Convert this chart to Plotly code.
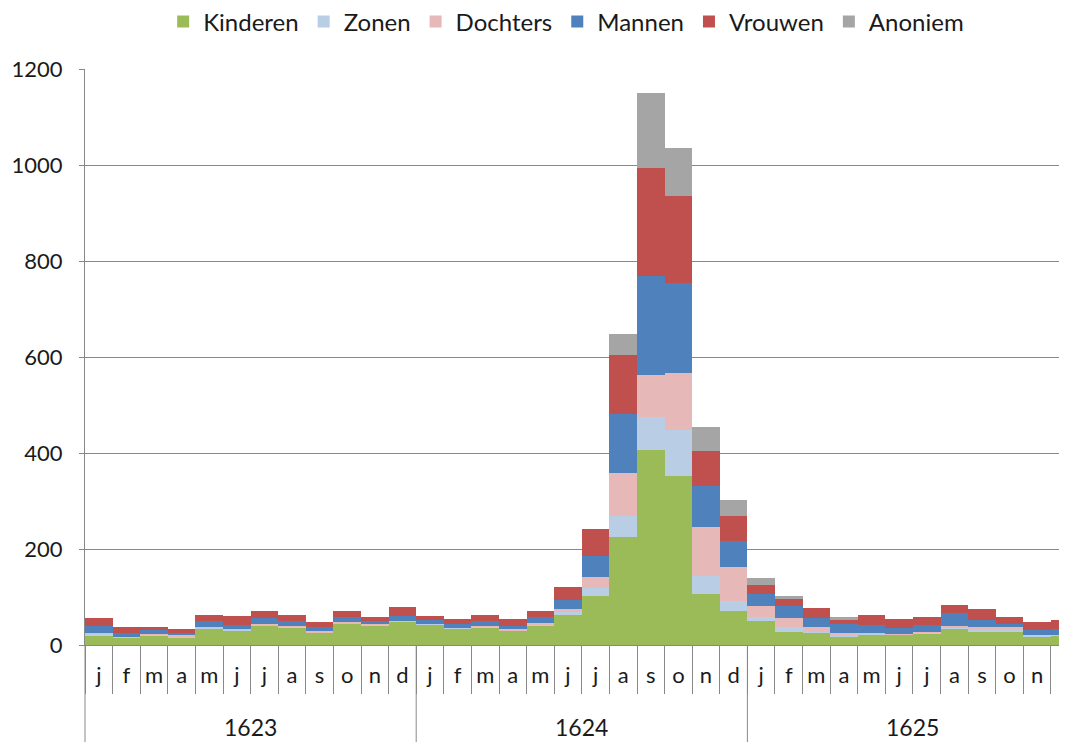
import plotly.graph_objects as go

years = ["1623", "1624", "1625"]
months = ["j", "f", "m", "a", "m", "j", "j", "a", "s", "o", "n", "d"]

kinderen = [20, 15, 20, 16, 35, 31, 40, 37, 26, 44, 41, 48,
            42, 34, 37, 30, 41, 62, 102, 224, 406, 352, 106, 71,
            49, 28, 26, 17, 21, 21, 23, 35, 28, 28, 18, 20]
zonen = [3, 1, 1, 2, 1, 1, 1, 1, 1, 1, 1, 1,
         1, 1, 1, 1, 2, 8, 16, 45, 68, 96, 38, 21,
         10, 10, 2, 2, 2, 1, 2, 1, 4, 4, 2, 1]
dochters = [3, 0, 1, 3, 2, 2, 2, 2, 2, 2, 3, 2,
            0, 0, 1, 2, 3, 4, 23, 90, 88, 119, 101, 70,
            22, 18, 9, 7, 3, 1, 2, 4, 5, 5, 0, 0]
mannen = [13, 9, 9, 3, 11, 8, 13, 11, 9, 11, 4, 9,
          9, 8, 10, 6, 12, 20, 44, 122, 207, 188, 86, 55,
          25, 25, 19, 17, 16, 12, 14, 27, 16, 7, 12, 13]
vrouwen = [17, 12, 7, 9, 13, 18, 15, 11, 10, 13, 9, 19,
           8, 11, 13, 16, 12, 27, 56, 123, 224, 181, 73, 52,
           19, 14, 22, 10, 20, 19, 17, 16, 23, 14, 16, 18]
anoniem = [0, 0, 0, 0, 0, 0, 0, 0, 0, 0, 0, 0,
           0, 0, 0, 0, 0, 0, 0, 44, 158, 100, 51, 33,
           14, 8, 0, 5, 0, 0, 0, 0, 0, 0, 0, 0]

series = [
    ("Kinderen", kinderen, "#9BBB59"),
    ("Zonen", zonen, "#B9CDE5"),
    ("Dochters", dochters, "#E6B9B8"),
    ("Mannen", mannen, "#4F81BD"),
    ("Vrouwen", vrouwen, "#C0504D"),
    ("Anoniem", anoniem, "#A5A5A5"),
]

n = len(years) * len(months)
xs = list(range(n))
tick_text = months * len(years)

FONT = "Lato, Carlito, Calibri, sans-serif"
GRID = "#888888"
TXT = "#1a1a1a"

fig = go.Figure()
for name, vals, col in series:
    fig.add_trace(go.Bar(x=xs, y=vals, name=name, marker=dict(color=col, line=dict(width=0))))

x_end = 35.08
below = 97 / 576  # depth of the category label area, in plot-height units

# the page body adds an 8px offset, so the figure is sized to the visible window
fig.update_layout(
    width=1059, height=734,
    margin=dict(l=77, r=0, t=61, b=97, autoexpand=False),
    barmode="stack", bargap=0,
    plot_bgcolor="white", paper_bgcolor="white",
    font=dict(family=FONT, size=22, color=TXT),
    legend=dict(orientation="h", x=0.49, xanchor="center", y=1.0816, yanchor="middle",
                font=dict(size=24), itemwidth=30, traceorder="normal"),
    xaxis=dict(range=[-0.5, x_end], tickmode="array", tickvals=xs, ticktext=tick_text,
               ticks="", showgrid=False, showline=True, linecolor=GRID, linewidth=1,
               zeroline=False, ticklabelstandoff=11, tickfont=dict(size=22, color=TXT),
               automargin=False, ticklabeloverflow="allow",
               minor=dict(tickmode="array", tickvals=[i - 0.5 for i in range(n + 1)],
                          ticks="outside", ticklen=48, tickcolor=GRID, tickwidth=1)),
    yaxis=dict(range=[0, 1200], dtick=200, tick0=0, showgrid=True, gridcolor=GRID, gridwidth=1,
               showline=True, linecolor=GRID, linewidth=1, ticks="outside", ticklen=5,
               tickcolor=GRID, zeroline=False, ticklabelstandoff=12, automargin=False,
               tickfont=dict(size=22, color=TXT)),
)

# year dividers in the category label area
fig.add_shape(type="line", xref="paper", yref="paper", x0=0, x1=0, y0=0, y1=-below,
              line=dict(color=GRID, width=1))
for i in range(1, len(years)):
    fig.add_shape(type="line", xref="x", yref="paper", x0=i * 12 - 0.5, x1=i * 12 - 0.5,
                  y0=0, y1=-below, line=dict(color=GRID, width=1))

for i, yr in enumerate(years):
    fig.add_annotation(x=i * 12 + 5.5, xref="x", y=-0.1424, yref="paper", text=yr,
                       showarrow=False, font=dict(size=23, color=TXT), yanchor="middle")

fig.write_html("out.html")
